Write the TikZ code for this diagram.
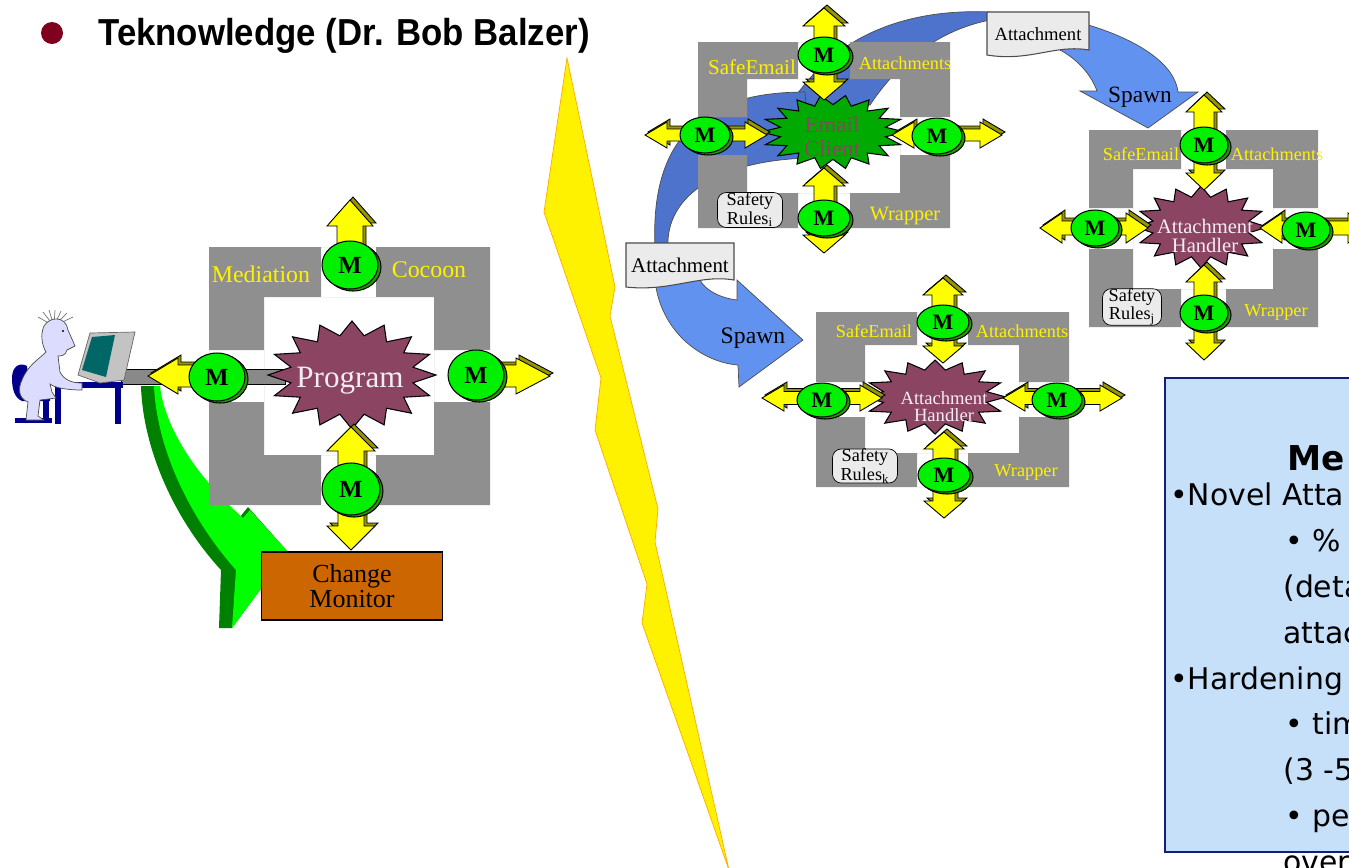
\documentclass[tikz,border=0pt]{standalone}
\usepackage{fontspec}
\usepackage{graphicx}
\setmainfont{Liberation Serif}
\newfontfamily\headfont{Liberation Sans}
\newfontfamily\notefont{DejaVu Sans}
\usetikzlibrary{shapes.geometric}

\definecolor{cocoongray}{RGB}{143,143,143}
\definecolor{coingreen}{RGB}{0,240,0}
\definecolor{coindark}{RGB}{40,150,0}
\definecolor{arrowyellow}{RGB}{255,255,0}
\definecolor{arrowolive}{RGB}{150,150,0}
\definecolor{burstred}{RGB}{139,69,99}
\definecolor{burstgreen}{RGB}{0,170,0}
\definecolor{bandblue}{RGB}{77,115,204}
\definecolor{spawnblue}{RGB}{98,146,240}
\definecolor{docgray}{RGB}{235,235,235}
\definecolor{monitororange}{RGB}{204,102,0}
\definecolor{leafgreen}{RGB}{0,255,0}
\definecolor{leafdark}{RGB}{0,128,0}
\definecolor{notebg}{RGB}{198,224,250}
\definecolor{notenavy}{RGB}{20,30,120}
\definecolor{bulletred}{RGB}{128,0,32}
\definecolor{personblue}{RGB}{220,220,255}
\definecolor{screenteal}{RGB}{0,102,102}
\definecolor{deskblue}{RGB}{0,0,140}
\definecolor{monitorgray}{RGB}{195,195,195}
\definecolor{boltorange}{RGB}{255,170,0}
\definecolor{textpale}{RGB}{245,235,245}

% block arrow outlines, drawn along the local x axis
\newcommand{\dblpath}[5]{(-#1,0) -- ({-#1+#3},#4) -- ({-#1+#3},#5) -- ({#2-#3},#5) -- ({#2-#3},#4) -- (#2,0)
	-- ({#2-#3},-#4) -- ({#2-#3},-#5) -- ({-#1+#3},-#5) -- ({-#1+#3},-#4) -- cycle}
\newcommand{\onepath}[4]{(0,#4) -- ({#1-#2},#4) -- ({#1-#2},#3) -- (#1,0) -- ({#1-#2},-#3) -- ({#1-#2},-#4) -- (0,-#4) -- cycle}
% x, y, angle, back, front, head length, head half width, shaft half width
\newcommand{\dblarrow}[8]{%
	\filldraw[arrowrim, shift={({#1+3},{#2-3})}, rotate=#3] \dblpath{#4}{#5}{#6}{#7}{#8};
	\filldraw[arrowbody, shift={(#1,#2)}, rotate=#3] \dblpath{#4}{#5}{#6}{#7}{#8};}
\newcommand{\onearrow}[7]{%
	\filldraw[arrowrim, shift={({#1+3},{#2-3})}, rotate=#3] \onepath{#4}{#5}{#6}{#7};
	\filldraw[arrowbody, shift={(#1,#2)}, rotate=#3] \onepath{#4}{#5}{#6}{#7};}
% name, x, y, x radius, y radius
\newcommand{\mcoin}[5]{%
	\node[coinrim, minimum width={#4*0.04cm}, minimum height={#5*0.04cm}] at ({#2+3},{#3+2}) {};
	\node[coin, minimum width={#4*0.04cm}, minimum height={#5*0.04cm}] (#1) at (#2,#3) {M};}
% x, y, x radius, y radius, points, fill
\newcommand{\burst}[6]{%
	\pgfmathtruncatemacro\lastk{2*#5-1}
	\filldraw[burstline, fill=#6] ({#1+#3},#2)
		\foreach \k [evaluate=\k as \r using {mod(\k,2)==0 ? 1 : 0.74}] in {1,...,\lastk} {
			-- ({#1+\r*#3*cos(180*\k/#5)},{#2+\r*#4*sin(180*\k/#5)})
		} -- cycle;}

\begin{document}
\begin{tikzpicture}[x=0.02cm, y=-0.02cm,
	cocoon/.style={fill=cocoongray, even odd rule},
	arrowbody/.style={fill=arrowyellow, draw=black, line width=0.5pt},
	arrowrim/.style={fill=arrowolive, draw=black, line width=0.5pt},
	coin/.style={ellipse, draw=black, line width=0.6pt, fill=coingreen, inner sep=0,
		font=\bfseries\fontsize{12.5}{12.5}\selectfont},
	coinrim/.style={ellipse, draw=black, line width=0.6pt, fill=coindark, inner sep=0},
	burstline/.style={draw=black, line width=0.6pt},
	cocoon label/.style={text=yellow, inner sep=0, font=\fontsize{10.4}{10.4}\selectfont},
	rules/.style={draw=black, fill=docgray, rounded corners=5pt, inner sep=0, align=center,
		font=\fontsize{10.4}{9}\selectfont},
	doc/.style={draw=black!70, fill=docgray, line width=0.6pt},
	doc label/.style={inner sep=0, font=\fontsize{10.6}{10.6}\selectfont},
	band/.style={fill=bandblue, draw=black!70, line width=0.4pt},
	spawn/.style={fill=spawnblue, draw=black!70, line width=0.4pt},
	spawn label/.style={inner sep=0, font=\fontsize{13.3}{13.3}\selectfont},
	handler label/.style={text=textpale, inner sep=0, align=center},
	note/.style={anchor=base west, inner sep=0, font=\notefont\fontsize{17}{17}\selectfont}
]
	\useasboundingbox (0,0) rectangle (1349,867);
	\clip (0,0) rectangle (1349,867);

	% heading
	\fill[bulletred] (52,33) circle (11);
	\node[anchor=base west, inner sep=0, font=\headfont\bfseries\fontsize{21.4}{21.4}\selectfont]
		(title) at (98,45) {\scalebox{0.925}[1]{Teknowledge (Dr. Bob Balzer)}};

	% lightning
	\filldraw[fill=yellow, draw=boltorange, line width=0.4pt] (567,58) -- (615,287) -- (610,316) -- (658,509)
		-- (655,542) -- (729,870) -- (642,623) -- (647,584) -- (595,430) -- (601,378) -- (544,212) -- cycle;

	% ---- user, program and change monitor ----
	\fill[leafdark] (141,386) .. controls (143,450) and (175,520) .. (221,570) -- (219,628) -- (232,628)
		-- (288,552) -- (248,507) -- (240,517) .. controls (200,482) and (166,440) .. (158,386) -- cycle;
	\fill[leafgreen] (154,386) .. controls (157,450) and (190,518) .. (236,570) -- (232,628) -- (288,552)
		-- (250,510) -- (243,518) .. controls (200,480) and (165,430) .. (160,386) -- cycle;
	\filldraw[fill=cocoongray!105, draw=black, line width=0.5pt] (121,369) rectangle (285,384);

	% desk, chair, user and screen
	\fill[deskblue] (12,378) .. controls (12,366) and (20,362) .. (27,366) -- (30,392) -- (50,394)
		-- (50,401) -- (22,401) .. controls (15,398) and (12,390) .. (12,378) -- cycle;
	\fill[deskblue] (43,400) rectangle (49,420);
	\fill[deskblue] (15,418) rectangle (52,423);
	\fill[deskblue] (63,382) rectangle (123,388);
	\fill[deskblue] (55,386) rectangle (61,424);
	\fill[deskblue] (115,386) rectangle (121,424);
	\draw[black!55, line width=0.4pt] \foreach \hx/\hy in {38/317, 43/312, 49/310, 55/310, 61/311, 67/313, 73/317} {(54,326) -- (\hx,\hy)};
	\filldraw[fill=personblue, draw=black!70, line width=0.4pt] (44,326) .. controls (50,316) and (66,316) .. (68,330)
		-- (75,346) -- (67,350) .. controls (66,356) and (60,356) .. (58,356)
		-- (60,372) .. controls (64,380) and (72,383) .. (82,383)
		-- (82,390) .. controls (68,390) and (55,388) .. (50,384)
		-- (52,392) -- (56,398) -- (40,400) -- (38,416) -- (44,420) -- (26,420) -- (28,402)
		.. controls (18,398) and (18,388) .. (22,380)
		.. controls (28,365) and (38,360) .. (46,352)
		.. controls (42,345) and (40,335) .. (44,326) -- cycle;
	\fill (63,331) circle (1.2);
	\filldraw[fill=monitorgray, draw=black!60, line width=0.4pt] (78,375) -- (90,333) -- (135,332) -- (124,380) -- (100,383) -- cycle;
	\fill[screenteal] (82,370) -- (92,337) -- (115,335) -- (106,377) -- cycle;

	% mediation cocoon
	\fill[cocoon] (209,247) rectangle (490,505) (264,297) rectangle (434,455)
		(321,247) rectangle (376,297) (321,455) rectangle (376,505)
		(209,350) rectangle (264,402) (434,350) rectangle (490,402);
	\burst{352}{375}{84}{54}{16}{burstred}
	\node[text=textpale, inner sep=0, font=\fontsize{17.7}{17.7}\selectfont] (prog) at (350,381) {Program};
	\onearrow{350}{265}{90}{65}{26}{23}{13}
	\onearrow{217}{376}{180}{69}{30}{18}{11}
	\onearrow{476}{376}{0}{74}{34}{18}{11}
	\dblarrow{351}{489}{-90}{62}{61}{24}{24}{13}
	\begin{scope}[coin/.append style={font=\bfseries\fontsize{14}{14}\selectfont}]
		\mcoin{mtop}{350}{265}{28}{24}
		\mcoin{mleft}{217}{377}{28}{24}
		\mcoin{mright}{476}{375}{28}{25}
		\mcoin{mbottom}{351}{489}{29}{26}
	\end{scope}
	\node[cocoon label, font=\fontsize{13.6}{13.6}\selectfont] (medlbl) at (261,274) {Mediation};
	\node[cocoon label, font=\fontsize{13.6}{13.6}\selectfont] (coclbl) at (429,270) {Cocoon};
	\node[draw=black, line width=1pt, fill=monitororange, minimum width=3.62cm, minimum height=1.36cm,
		align=center, inner sep=0, font=\fontsize{14.8}{14.2}\selectfont] (chmon) at (352,586) {Change\\Monitor};

	% ---- spawning of attachment handlers ----
	\filldraw[band] (990,12) .. controls (900,8) and (830,40) .. (790,105) -- (870,105)
		.. controls (900,60) and (940,30) .. (990,20) -- cycle;
	\filldraw[band] (805,92) .. controls (700,92) and (650,140) .. (655,248) -- (668,248)
		.. controls (665,195) and (720,160) .. (810,158) -- cycle;
	\filldraw[spawn] (1085,24) .. controls (1140,40) and (1175,65) .. (1178,92) -- (1198,92) -- (1148,128)
		-- (1080,91) -- (1097,91) .. controls (1090,72) and (1075,58) .. (1060,50) -- cycle;
	\filldraw[spawn] (655,280) .. controls (660,330) and (700,362) .. (738,365) -- (739,387) -- (803,340)
		-- (737,280) -- (737,300) .. controls (720,298) and (705,290) .. (700,280) -- cycle;
	\filldraw[doc] (987,12) -- (1089,12) -- (1089,50) .. controls (1055,44) and (1030,62) .. (987,55) -- cycle;
	\node[doc label] (att1) at (1038,34) {Attachment};
	\filldraw[doc] (626,243) -- (734,243) -- (734,280) .. controls (700,274) and (670,292) .. (626,287) -- cycle;
	\node[doc label, font=\fontsize{11.9}{11.9}\selectfont] (att2) at (680,265) {Attachment};
	\node[spawn label] (spawn1) at (1140,97) {Spawn};
	\node[spawn label, font=\fontsize{13.5}{13.5}\selectfont] (spawn2) at (753,338) {Spawn};

	% email client cocoon
	\fill[cocoon] (698,42) rectangle (950,228) (747,79) rectangle (900,193)
		(798,42) rectangle (850,79) (798,193) rectangle (850,228)
		(698,117) rectangle (747,155) (900,117) rectangle (950,155);
	\burst{833}{132}{72}{37}{18}{burstgreen}
	\node[text=burstred, inner sep=0, align=center, font=\fontsize{13}{13.6}\selectfont] (email) at (832,137) {Email\\Client};
	\dblarrow{824}{54}{-90}{46}{46}{18}{21}{10}
	\dblarrow{705}{135}{0}{60}{62}{22}{13}{6}
	\dblarrow{937}{135}{0}{45}{65}{22}{13}{6}
	\dblarrow{824}{218}{-90}{50}{35}{18}{21}{10}
	\mcoin{etop}{824}{55}{26}{18}
	\mcoin{eleft}{705}{135}{25}{18}
	\mcoin{eright}{937}{136}{25}{18}
	\mcoin{ebottom}{824}{218}{26}{18}
	\node[cocoon label, font=\fontsize{12}{12}\selectfont] (esafe) at (752,67) {SafeEmail};
	\node[cocoon label] (eatt) at (905,63) {Attachments};
	\node[cocoon label, font=\fontsize{11.6}{11.6}\selectfont] (ewrap) at (905,216) {Wrapper};
	\node[rules, minimum width=1.3cm, minimum height=0.7cm] (erules) at (750,210) {Safety\\Rules$_{\mathrm{i}}$};

	% attachment handler j
	\fill[cocoon] (1089,130) rectangle (1318,327) (1133,169) rectangle (1273,289)
		(1181,130) rectangle (1226,169) (1181,289) rectangle (1226,327)
		(1089,208) rectangle (1133,249) (1273,208) rectangle (1318,249);
	\burst{1201}{227}{66}{41}{16}{burstred}
	\node[handler label, font=\fontsize{11.7}{10.8}\selectfont] (hj) at (1205,236) {Attachment\\Handler};
	\dblarrow{1204}{145}{-90}{50}{45}{17}{18}{10}
	\dblarrow{1095}{228}{0}{55}{53}{22}{15}{7}
	\dblarrow{1306}{228}{0}{46}{64}{22}{15}{7}
	\dblarrow{1204}{313}{-90}{48}{47}{17}{18}{10}
	\mcoin{jtop}{1204}{145}{24}{18}
	\mcoin{jleft}{1095}{228}{24}{18}
	\mcoin{jright}{1306}{230}{24}{18}
	\mcoin{jbottom}{1204}{313}{24}{18}
	\node[cocoon label] (jsafe) at (1141,154) {SafeEmail};
	\node[cocoon label] (jatt) at (1277,154) {Attachments};
	\node[cocoon label] (jwrap) at (1276,312) {Wrapper};
	\node[rules, minimum width=1.18cm, minimum height=0.6cm] (jrules) at (1132,307) {Safety\\Rules$_{\mathrm{j}}$};

	% attachment handler k
	\fill[cocoon] (816,312) rectangle (1069,487) (865,345) rectangle (1019,453)
		(917,312) rectangle (968,345) (917,453) rectangle (968,487)
		(816,382) rectangle (865,417) (1019,382) rectangle (1069,417);
	\burst{935}{397}{71}{37}{16}{burstred}
	\node[handler label, font=\fontsize{10.6}{9.6}\selectfont] (hk) at (944,407) {Attachment\\Handler};
	\dblarrow{943}{322}{-90}{44}{41}{17}{20}{11}
	\dblarrow{822}{398}{0}{60}{60}{22}{13}{6.5}
	\dblarrow{1057}{398}{0}{54}{65}{22}{13}{6.5}
	\dblarrow{944}{475}{-90}{43}{43}{17}{20}{11}
	\mcoin{ktop}{943}{322}{26}{17}
	\mcoin{kleft}{822}{400}{25}{17}
	\mcoin{kright}{1057}{400}{25}{17}
	\mcoin{kbottom}{944}{475}{26}{17}
	\node[cocoon label] (ksafe) at (874,331) {SafeEmail};
	\node[cocoon label] (katt) at (1022,331) {Attachments};
	\node[cocoon label] (kwrap) at (1026,472) {Wrapper};
	\node[rules, minimum width=1.3cm, minimum height=0.66cm] (krules) at (865,466) {Safety\\Rules$_{\mathrm{k}}$};

	% metrics note
	\filldraw[fill=notebg, draw=notenavy, line width=0.6pt] (1165,378) rectangle (1360,852);
	\node[note, font=\notefont\bfseries\fontsize{19.5}{19.5}\selectfont] (metrics) at (1287,470) {Me};
	\foreach \nx/\ny/\line [count=\n] in {1170/505/{•Novel Atta}, 1285/551/{• \% o}, 1283/597/{(deta},
		1283/643/{attac}, 1170/689/{•Hardening}, 1285/734/{• tim}, 1283/780/{(3 -5},
		1285/826/{• per}, 1283/872/{over}}
		\node[note] (note \n) at (\nx,\ny) {\line};
\end{tikzpicture}
\end{document}
